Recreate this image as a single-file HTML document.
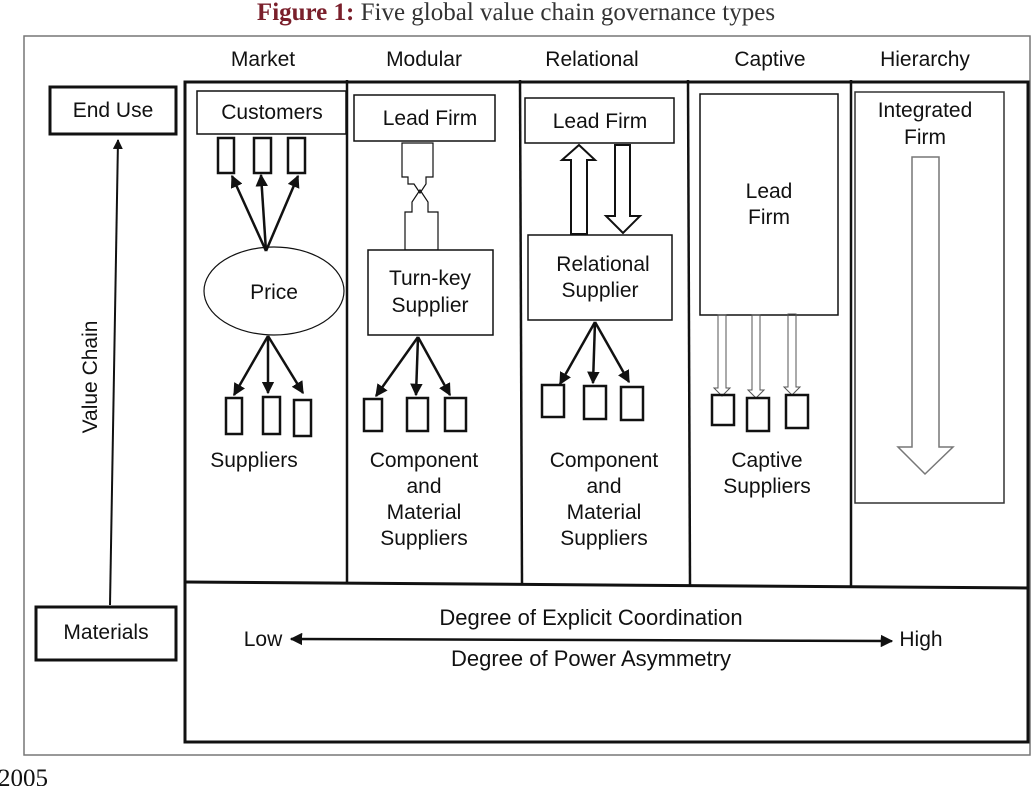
<!DOCTYPE html>
<html><head><meta charset="utf-8"><style>
html,body{margin:0;padding:0;background:#fff;}
svg{display:block;}
text{font-family:"Liberation Sans",sans-serif;font-size:21px;fill:#111;}
</style></head><body>
<svg width="1032" height="786" viewBox="0 0 1032 786" xmlns="http://www.w3.org/2000/svg">
<defs>
<marker id="ah" viewBox="0 0 10 10" refX="9" refY="5" markerWidth="5" markerHeight="5" orient="auto-start-reverse"><path d="M0,0 L10,5 L0,10 z" fill="#111"/></marker>
<marker id="ah2" viewBox="0 0 10 10" refX="9" refY="5" markerWidth="7" markerHeight="7" orient="auto-start-reverse"><path d="M0,0 L10,5 L0,10 z" fill="#111"/></marker>
</defs>
<text x="516" y="20" text-anchor="middle" style="font-family:'Liberation Serif',serif;font-size:25px;fill:#333"><tspan style="font-weight:bold;fill:#7a1f2b">Figure 1:</tspan> Five global value chain governance types</text>
<rect x="24" y="36" width="1006" height="719" fill="none" stroke="#777" stroke-width="1.5"/>
<text x="-2" y="786" style="font-family:'Liberation Serif',serif;font-size:25px">2005</text>

<text x="263" y="66" text-anchor="middle">Market</text>
<text x="424" y="66" text-anchor="middle">Modular</text>
<text x="592" y="66" text-anchor="middle">Relational</text>
<text x="770" y="66" text-anchor="middle">Captive</text>
<text x="925" y="66" text-anchor="middle">Hierarchy</text>

<rect x="185" y="82" width="843" height="660" fill="none" stroke="#111" stroke-width="3"/>
<line x1="185" y1="582" x2="1028" y2="588" stroke="#111" stroke-width="3"/>
<g stroke="#111" stroke-width="2.5">
<line x1="347" y1="80" x2="347" y2="583"/>
<line x1="520" y1="80" x2="522" y2="584"/>
<line x1="688" y1="80" x2="690" y2="585"/>
<line x1="851" y1="80" x2="851" y2="586"/>
</g>

<rect x="50" y="87" width="126" height="47" fill="none" stroke="#111" stroke-width="3"/>
<text x="113" y="117" text-anchor="middle">End Use</text>
<rect x="36" y="607" width="140" height="53" fill="none" stroke="#111" stroke-width="3"/>
<text x="106" y="639" text-anchor="middle">Materials</text>
<line x1="110" y1="605" x2="118" y2="140" stroke="#111" stroke-width="2" marker-end="url(#ah)"/>
<text transform="translate(97,377) rotate(-90)" text-anchor="middle">Value Chain</text>

<rect x="197" y="91" width="149" height="43" fill="none" stroke="#111" stroke-width="1.5"/>
<text x="272" y="119" text-anchor="middle">Customers</text>
<g fill="none" stroke="#111" stroke-width="2.5">
<rect x="218" y="138" width="16" height="35"/><rect x="254" y="138" width="17" height="35"/><rect x="288" y="138" width="17" height="35"/>
<rect x="226" y="398" width="16" height="36"/><rect x="263" y="397" width="17" height="37"/><rect x="294" y="400" width="17" height="36"/>
</g>
<ellipse cx="274" cy="291" rx="70" ry="44" fill="none" stroke="#111" stroke-width="1.2"/>
<text x="274" y="299" text-anchor="middle">Price</text>
<g stroke="#111" stroke-width="2.5" marker-end="url(#ah)">
<line x1="266" y1="251" x2="232" y2="176"/><line x1="266" y1="251" x2="261" y2="175"/><line x1="266" y1="251" x2="298" y2="176"/>
<line x1="268" y1="336" x2="234" y2="395"/><line x1="268" y1="336" x2="268" y2="393"/><line x1="268" y1="336" x2="303" y2="393"/>
</g>
<text x="254" y="467" text-anchor="middle">Suppliers</text>

<rect x="354" y="95" width="141" height="46" fill="none" stroke="#111" stroke-width="1.5"/>
<text x="430" y="125" text-anchor="middle">Lead Firm</text>
<polygon points="402,143 433,143 433,177 426,177 426,184 420,193 414,184 408,184 408,177 402,177" fill="none" stroke="#111" stroke-width="1.2"/>
<polygon points="405,250 438,250 438,212 428,212 428,202 420,190 412,202 412,212 405,212" fill="none" stroke="#111" stroke-width="1.2"/>
<rect x="368" y="250" width="125" height="85" fill="#fff" stroke="#111" stroke-width="1.5"/>
<text x="430" y="285" text-anchor="middle">Turn-key</text>
<text x="430" y="312" text-anchor="middle">Supplier</text>
<g stroke="#111" stroke-width="2.5" marker-end="url(#ah)">
<line x1="418" y1="337" x2="376" y2="396"/><line x1="418" y1="337" x2="416" y2="395"/><line x1="418" y1="337" x2="450" y2="395"/>
</g>
<g fill="none" stroke="#111" stroke-width="2.5">
<rect x="364" y="399" width="18" height="32"/><rect x="407" y="398" width="21" height="33"/><rect x="445" y="398" width="21" height="33"/>
</g>
<text x="424" y="467" text-anchor="middle">Component</text>
<text x="424" y="493" text-anchor="middle">and</text>
<text x="424" y="519" text-anchor="middle">Material</text>
<text x="424" y="545" text-anchor="middle">Suppliers</text>

<rect x="525" y="98" width="149" height="45" fill="none" stroke="#111" stroke-width="1.5"/>
<text x="600" y="128" text-anchor="middle">Lead Firm</text>
<polygon points="571,234 587,234 587,160 595,160 579,145 562,160 571,160" fill="none" stroke="#111" stroke-width="2"/>
<polygon points="615,145 630,145 630,216 640,216 623,233 606,216 615,216" fill="none" stroke="#111" stroke-width="2"/>
<rect x="528" y="235" width="144" height="85" fill="none" stroke="#111" stroke-width="1.5"/>
<text x="603" y="271" text-anchor="middle">Relational</text>
<text x="600" y="297" text-anchor="middle">Supplier</text>
<g stroke="#111" stroke-width="2.5" marker-end="url(#ah)">
<line x1="595" y1="322" x2="560" y2="384"/><line x1="595" y1="322" x2="593" y2="383"/><line x1="595" y1="322" x2="629" y2="382"/>
</g>
<g fill="none" stroke="#111" stroke-width="2.5">
<rect x="542" y="385" width="22" height="32"/><rect x="584" y="386" width="22" height="33"/><rect x="621" y="387" width="22" height="33"/>
</g>
<text x="604" y="467" text-anchor="middle">Component</text>
<text x="604" y="493" text-anchor="middle">and</text>
<text x="604" y="519" text-anchor="middle">Material</text>
<text x="604" y="545" text-anchor="middle">Suppliers</text>

<rect x="700" y="94" width="138" height="221" fill="none" stroke="#111" stroke-width="1.5"/>
<text x="769" y="198" text-anchor="middle">Lead</text>
<text x="769" y="224" text-anchor="middle">Firm</text>
<g fill="none" stroke="#555" stroke-width="1">
<polygon points="718,315 726,315 726,388 730,388 722,396 714,388 718,388"/>
<polygon points="752,315 760,315 760,390 764,390 756,398 748,390 752,390"/>
<polygon points="788,314 796,314 796,387 800,387 792,395 784,387 788,387"/>
</g>
<g fill="none" stroke="#111" stroke-width="2.5">
<rect x="712" y="395" width="22" height="30"/><rect x="747" y="398" width="22" height="33"/><rect x="786" y="395" width="22" height="33"/>
</g>
<text x="767" y="467" text-anchor="middle">Captive</text>
<text x="767" y="493" text-anchor="middle">Suppliers</text>

<rect x="855" y="92" width="149" height="411" fill="none" stroke="#333" stroke-width="1.5"/>
<text x="925" y="117" text-anchor="middle">Integrated</text>
<text x="925" y="144" text-anchor="middle">Firm</text>
<polygon points="912,157 939,157 939,447 953,447 925,474 898,447 912,447" fill="none" stroke="#777" stroke-width="1.5"/>

<text x="591" y="625" text-anchor="middle" style="font-size:22px">Degree of Explicit Coordination</text>
<text x="591" y="666" text-anchor="middle" style="font-size:22px">Degree of Power Asymmetry</text>
<text x="263" y="646" text-anchor="middle">Low</text>
<text x="921" y="646" text-anchor="middle">High</text>
<line x1="291" y1="639" x2="892" y2="641" stroke="#111" stroke-width="2.5" marker-start="url(#ah)" marker-end="url(#ah)"/>
</svg>
</body></html>
